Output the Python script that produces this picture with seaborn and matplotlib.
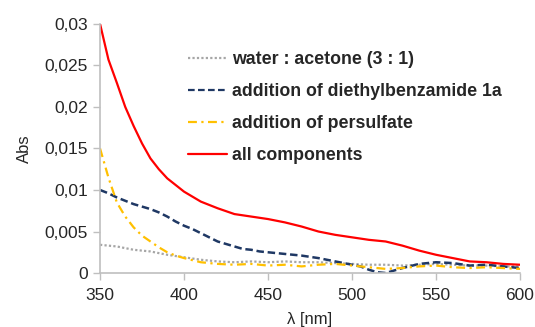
import matplotlib
matplotlib.use("Agg")
import matplotlib.pyplot as plt
import pandas as pd
import seaborn as sns
from matplotlib.ticker import FuncFormatter

# wavelength [nm] and absorbance
WL_WATER = [350, 360, 370, 380, 390, 400, 410, 420, 430, 440, 450, 460, 470, 480, 490,
            500, 510, 520, 530, 540, 550, 560, 570, 580, 590, 600]
ABS_WATER = [0.0034, 0.0032, 0.0028, 0.0026, 0.0022, 0.0019, 0.0016, 0.0014, 0.0013, 0.0014,
             0.0013, 0.0014, 0.0013, 0.0013, 0.0012, 0.0011, 0.0010, 0.0010, 0.0009, 0.0010,
             0.0011, 0.0010, 0.0009, 0.0009, 0.0008, 0.0008]

WL_AMIDE = [350, 355, 360, 365, 370, 375, 380, 385, 390, 395, 400, 405, 410, 415, 420, 425,
            430, 435, 440, 445, 450, 460, 470, 480, 490, 500, 505, 510, 515, 520, 525, 530,
            540, 550, 560, 570, 580, 590, 600]
ABS_AMIDE = [0.0100, 0.0096, 0.0091, 0.0087, 0.0083, 0.0080, 0.0077, 0.0073, 0.0068, 0.0062,
             0.0057, 0.0053, 0.0048, 0.0043, 0.0038, 0.0035, 0.0032, 0.0029, 0.0028, 0.0026,
             0.0025, 0.0023, 0.0021, 0.0018, 0.0014, 0.0010, 0.0008, 0.0004, 0.0001, 0.0000,
             0.0003, 0.0006, 0.0011, 0.0013, 0.0012, 0.0009, 0.0010, 0.0008, 0.0006]

WL_PERSULF = [350, 352, 355, 360, 365, 370, 375, 380, 385, 390, 395, 400, 410, 420, 430, 440,
              450, 460, 470, 480, 490, 500, 510, 520, 530, 540, 550, 560, 570, 580, 590, 600]
ABS_PERSULF = [0.0150, 0.0136, 0.0115, 0.0085, 0.0068, 0.0055, 0.0045, 0.0038, 0.0031, 0.0025,
               0.0021, 0.0018, 0.0013, 0.0011, 0.0010, 0.0011, 0.0009, 0.0010, 0.0008, 0.0010,
               0.0011, 0.0009, 0.0007, 0.0005, 0.0006, 0.0008, 0.0009, 0.0007, 0.0006, 0.0007,
               0.0006, 0.0005]

WL_ALL = [350, 355, 360, 365, 370, 375, 380, 385, 390, 395, 400, 410, 420, 430, 440, 450,
          460, 470, 480, 490, 500, 510, 520, 530, 540, 550, 560, 570, 580, 590, 600]
ABS_ALL = [0.0300, 0.0257, 0.0229, 0.0200, 0.0177, 0.0156, 0.0138, 0.0125, 0.0114, 0.0106,
           0.0098, 0.0086, 0.0078, 0.0071, 0.0068, 0.0065, 0.0061, 0.0056, 0.0050, 0.0046,
           0.0043, 0.0040, 0.0038, 0.0033, 0.0027, 0.0022, 0.0018, 0.0014, 0.0013, 0.0011,
           0.0010]

LABELS = ["water : acetone (3 : 1)", "addition of diethylbenzamide 1a",
          "addition of persulfate", "all components"]
Y_TICKS = [0, 0.005, 0.01, 0.015, 0.02, 0.025, 0.03]
X_TICKS = [350, 400, 450, 500, 550, 600]


def main() -> None:
    sns.set_theme(style="white")
    plt.rcParams["font.family"] = ["Liberation Sans", "DejaVu Sans"]

    fig = plt.figure(figsize=(5.35, 3.27), dpi=100)
    ax = fig.add_axes([0.187, 0.165, 0.785, 0.762])

    series = [
        (WL_WATER, ABS_WATER, "#a6a6a6", (1, 1), 1.6),
        (WL_AMIDE, ABS_AMIDE, "#1f3864", (3, 1.5), 1.8),
        (WL_PERSULF, ABS_PERSULF, "#ffc000", (4, 2, 1, 2), 1.6),
        (WL_ALL, ABS_ALL, "#ff0000", None, 1.6),
    ]
    for (wl, ab, color, dash, lw), label in zip(series, LABELS):
        df = pd.DataFrame({"wl": wl, "abs": ab})
        line_kw = {"color": color, "lw": lw, "label": label}
        if dash is not None:
            line_kw["dashes"] = dash
        sns.lineplot(data=df, x="wl", y="abs", ax=ax, **line_kw)

    ax.set_xlim(350, 600)
    ax.set_ylim(0, 0.03)
    ax.set_xticks(X_TICKS)
    ax.set_yticks(Y_TICKS)
    ax.yaxis.set_major_formatter(FuncFormatter(lambda v, _: "0" if v == 0 else f"{v:g}".replace(".", ",")))
    ax.tick_params(axis="x", pad=6)
    ax.tick_params(axis="both", labelsize=12.5, length=5, width=1, color="#bfbfbf", direction="out",
                   bottom=True, left=True)
    ax.set_xlabel("λ [nm]", fontsize=12, labelpad=6)
    ax.set_ylabel("Abs", fontsize=12, labelpad=9)

    for side in ["top", "right"]:
        ax.spines[side].set_visible(False)
    for side in ["left", "bottom"]:
        ax.spines[side].set_color("#bfbfbf")
        ax.spines[side].set_linewidth(1.2)

    leg = ax.legend(loc="upper left", bbox_to_anchor=(0.171, 0.955), frameon=False,
                    prop={"weight": "bold", "size": 12.8}, handlelength=2.2,
                    handletextpad=0.3, labelspacing=0.84)
    for line in leg.get_lines():
        line.set_linewidth(1.6)

    fig.savefig("out.png", dpi=100)
    plt.close(fig)


if __name__ == "__main__":
    main()
